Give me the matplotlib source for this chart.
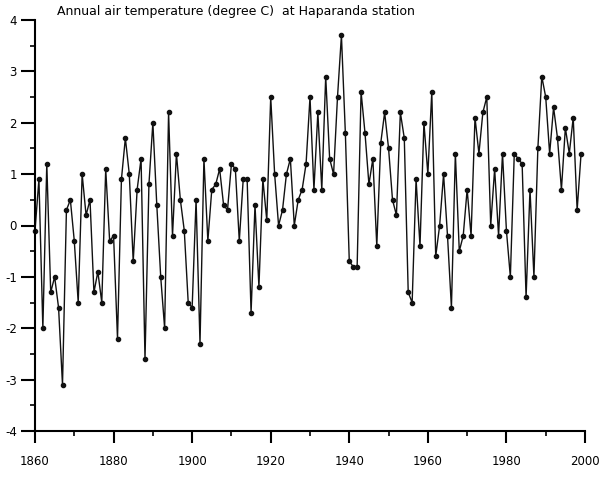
import numpy as np
import matplotlib.pyplot as plt
from matplotlib.ticker import MultipleLocator

plt.rcParams['axes.unicode_minus'] = False

years = np.arange(1860, 2000)
temps = [
    -0.1, 0.9, -2.0, 1.2, -1.3, -1.0, -1.6, -3.1, 0.3, 0.5,    # 1860s
    -0.3, -1.5, 1.0, 0.2, 0.5, -1.3, -0.9, -1.5, 1.1, -0.3,    # 1870s
    -0.2, -2.2, 0.9, 1.7, 1.0, -0.7, 0.7, 1.3, -2.6, 0.8,      # 1880s
    2.0, 0.4, -1.0, -2.0, 2.2, -0.2, 1.4, 0.5, -0.1, -1.5,     # 1890s
    -1.6, 0.5, -2.3, 1.3, -0.3, 0.7, 0.8, 1.1, 0.4, 0.3,       # 1900s
    1.2, 1.1, -0.3, 0.9, 0.9, -1.7, 0.4, -1.2, 0.9, 0.1,       # 1910s
    2.5, 1.0, 0.0, 0.3, 1.0, 1.3, 0.0, 0.5, 0.7, 1.2,          # 1920s
    2.5, 0.7, 2.2, 0.7, 2.9, 1.3, 1.0, 2.5, 3.7, 1.8,          # 1930s
    -0.7, -0.8, -0.8, 2.6, 1.8, 0.8, 1.3, -0.4, 1.6, 2.2,      # 1940s
    1.5, 0.5, 0.2, 2.2, 1.7, -1.3, -1.5, 0.9, -0.4, 2.0,       # 1950s
    1.0, 2.6, -0.6, 0.0, 1.0, -0.2, -1.6, 1.4, -0.5, -0.2,     # 1960s
    0.7, -0.2, 2.1, 1.4, 2.2, 2.5, 0.0, 1.1, -0.2, 1.4,        # 1970s
    -0.1, -1.0, 1.4, 1.3, 1.2, -1.4, 0.7, -1.0, 1.5, 2.9,      # 1980s
    2.5, 1.4, 2.3, 1.7, 0.7, 1.9, 1.4, 2.1, 0.3, 1.4,          # 1990s
]
title = "Annual air temperature (degree C)  at Haparanda station"

fig = plt.figure(figsize=(6.0, 4.93), dpi=100)
ax = fig.add_axes([35 / 600, (493 - 431) / 493, 550 / 600, 411 / 493])

ax.plot(years, temps, color='#111111', lw=1.0, marker='o', ms=3.0,
        clip_on=False)

ax.set_xlim(1860, 2000)
ax.set_ylim(-4, 4)
ax.xaxis.set_major_locator(MultipleLocator(20))
ax.xaxis.set_minor_locator(MultipleLocator(10))
ax.yaxis.set_major_locator(MultipleLocator(1))
ax.yaxis.set_minor_locator(MultipleLocator(0.5))

for s in ['top', 'right']:
    ax.spines[s].set_visible(False)
for s in ['left', 'bottom']:
    ax.spines[s].set_linewidth(1.5)

ax.tick_params(axis='x', which='major', length=8.5, width=1.5, pad=8.5,
               labelsize=8.5)
ax.tick_params(axis='x', which='minor', length=3.5, width=1.2)
ax.tick_params(axis='y', which='major', length=10, width=1.5, pad=3,
               labelsize=8.5)
ax.tick_params(axis='y', which='minor', length=3.5, width=1.2)

fig.text(57 / 600, 1 - 11 / 493, title, fontsize=9, va='center', ha='left')

fig.savefig('out.png', dpi=100)
